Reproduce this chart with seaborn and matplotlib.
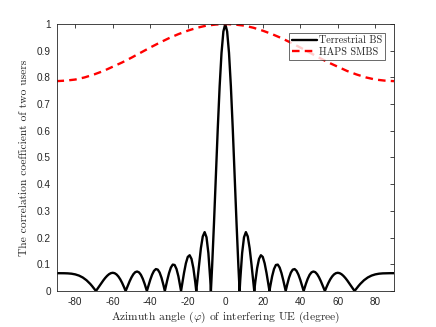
import matplotlib
matplotlib.use("Agg")
import matplotlib.pyplot as plt
import seaborn as sns
import pandas as pd

# Terrestrial BS (angles in degrees)
bs_angle_pos = [0, 1, 2, 3, 4, 5, 6, 7, 7.66, 8, 9, 10, 11, 12, 13, 14, 15, 15.47, 16, 17, 18, 19,
                20, 21, 22, 23, 23.58, 24, 25, 26, 27, 28, 29, 30, 31, 32, 32.23, 33, 34, 35, 36,
                37, 38, 39, 40, 41, 41.81, 43, 44, 45, 46, 47, 48, 49, 50, 51, 52, 53.13, 54, 55,
                56, 57, 58, 59, 60, 61, 62, 63, 64, 65, 66, 67, 68, 68.96, 70, 71, 72, 74, 76,
                78, 80, 82, 84, 86, 88, 90]
bs_value_pos = [1.0, 0.9721, 0.8915, 0.7660, 0.6080, 0.4327, 0.2561, 0.0935, 0.0, 0.0422, 0.1420,
                0.2013, 0.2205, 0.2042, 0.1603, 0.0990, 0.0310, 0.0, 0.0333, 0.0856, 0.1201, 0.1339,
                0.1276, 0.1038, 0.0677, 0.0251, 0.0, 0.0177, 0.0550, 0.0824, 0.0974, 0.0989, 0.0879,
                0.0667, 0.0385, 0.0072, 0.0, 0.0232, 0.0496, 0.0691, 0.0801, 0.0821, 0.0755, 0.0615,
                0.0420, 0.0192, 0.0, 0.0268, 0.0460, 0.0607, 0.0698, 0.0730, 0.0706, 0.0630, 0.0512,
                0.0364, 0.0197, 0.0, 0.0147, 0.0303, 0.0437, 0.0544, 0.0621, 0.0667, 0.0682, 0.0668,
                0.0629, 0.0568, 0.0491, 0.0401, 0.0302, 0.0200, 0.0097, 0.0, 0.0093, 0.0183, 0.0265,
                0.0403, 0.0506, 0.0577, 0.0622, 0.0648, 0.0660, 0.0665, 0.0667, 0.0667]

# HAPS SMBS
haps_angle_pos = [0, 5, 10, 15, 20, 25, 30, 35, 40, 45, 50, 55, 60, 65, 70, 75, 80, 85, 90]
haps_value_pos = [1.000, 0.998, 0.994, 0.986, 0.975, 0.962, 0.947, 0.930, 0.912, 0.893, 0.874,
                  0.856, 0.840, 0.824, 0.811, 0.800, 0.792, 0.788, 0.786]

bs_angle = [-a for a in reversed(bs_angle_pos[1:])] + bs_angle_pos
bs_value = list(reversed(bs_value_pos[1:])) + bs_value_pos
haps_angle = [-a for a in reversed(haps_angle_pos[1:])] + haps_angle_pos
haps_value = list(reversed(haps_value_pos[1:])) + haps_value_pos

series_names = ["Terrestrial BS", "HAPS SMBS"]
x_ticks = [-80, -60, -40, -20, 0, 20, 40, 60, 80]
y_ticks = [0, 0.1, 0.2, 0.3, 0.4, 0.5, 0.6, 0.7, 0.8, 0.9, 1]
y_tick_labels = ["0", "0.1", "0.2", "0.3", "0.4", "0.5", "0.6", "0.7", "0.8", "0.9", "1"]

df = pd.concat([
    pd.DataFrame({"angle": bs_angle, "value": bs_value, "series": series_names[0]}),
    pd.DataFrame({"angle": haps_angle, "value": haps_value, "series": series_names[1]}),
])

sns.set_style("white")
plt.rcParams["mathtext.fontset"] = "cm"
plt.rcParams["axes.unicode_minus"] = False
plt.rcParams["axes.formatter.use_mathtext"] = False

fig = plt.figure(figsize=(4.36, 3.27), dpi=100)
ax = fig.add_axes([0.1296, 0.1101, 0.9037 - 0.1296, 0.9266 - 0.1101])

edge = "#262626"
sns.lineplot(data=df[df.series == series_names[0]], x="angle", y="value", ax=ax,
             color="black", linewidth=1.7, sort=True, label=series_names[0])
sns.lineplot(data=df[df.series == series_names[1]], x="angle", y="value", ax=ax,
             color="#ff0000", linewidth=1.7, sort=True, label=series_names[1],
             linestyle=(0, (3.2, 2.2)))

ax.set_xlim(-90, 90)
ax.set_ylim(0, 1)
ax.set_xticks(x_ticks)
ax.set_xticklabels([str(t) for t in x_ticks])
ax.set_yticks(y_ticks)
ax.set_yticklabels(y_tick_labels)
ax.tick_params(direction="in", length=3, width=0.6, top=True, right=True,
               labelsize=7.2, colors=edge, pad=4)
for lbl in ax.get_xticklabels() + ax.get_yticklabels():
    lbl.set_family("Liberation Sans")
for s in ax.spines.values():
    s.set_color(edge)
    s.set_linewidth(0.6)
    s.set_visible(True)

ax.set_xlabel(r"Azimuth angle ($\varphi$) of interfering UE (degree)",
              family="cmr10", fontsize=8.3, color=edge, labelpad=2)
ax.set_ylabel("The correlation coefficient of two users",
              family="cmr10", fontsize=8.3, color=edge, labelpad=6)

leg = ax.legend(loc="upper right", prop={"family": "cmr10", "size": 7.3},
                frameon=True, fancybox=False, borderpad=0.3, handlelength=2.4,
                handletextpad=0.25, labelspacing=0.2, borderaxespad=0.85)
leg.get_frame().set_edgecolor(edge)
leg.get_frame().set_linewidth(0.6)

fig.savefig("out.png", dpi=100, facecolor="white")
